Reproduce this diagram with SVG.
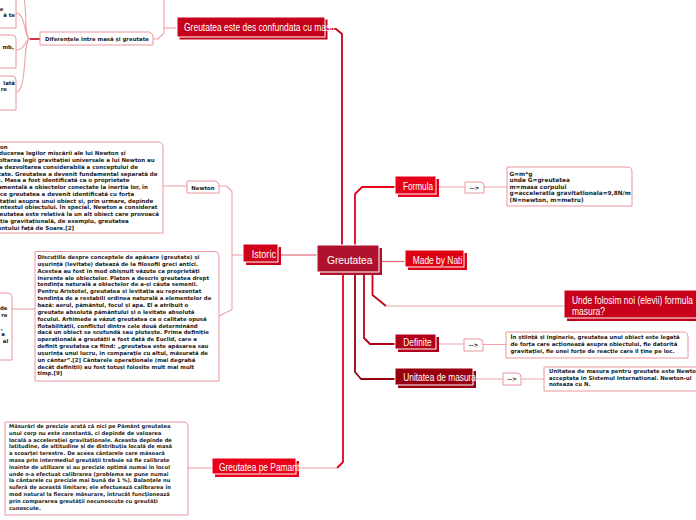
<svg xmlns="http://www.w3.org/2000/svg" width="696" height="520" viewBox="0 0 696 520">
<style>
.n{font-family:"Liberation Sans",Arial,sans-serif;font-size:10px;fill:#fff}
.t{font-family:"DejaVu Sans",Verdana,sans-serif;font-weight:bold;font-size:5.4px;fill:#1c1c1c}
.note{fill:#fff;stroke:#e9969d;stroke-width:1}
.c{fill:none;stroke-linejoin:round}
.pk{stroke:#eda3a8;stroke-width:1.1}
.w{stroke:#fff;stroke-width:1}
</style>
<rect width="696" height="520" fill="#fff"/>
<g id="connectors" class="c">
<path d="M342,245 V34 L336,29 H325" stroke="#c4001a" stroke-width="1.8"/>
<path d="M355,245 V194 L362,187 H395" stroke="#e8001a" stroke-width="1.8"/>
<path d="M379,261.5 H405" stroke="#e06870" stroke-width="1.2"/>
<path d="M372.5,272 V295 L386,306" stroke="#c8001a" stroke-width="1.8"/>
<path d="M386,306 H564" class="pk"/>
<path d="M364,272 V338 L370,344 H395" stroke="#b20019" stroke-width="1.8"/>
<path d="M355,272 V372 L361,379 H395" stroke="#98000f" stroke-width="1.8"/>
<path d="M343,272 V462 L337,468" stroke="#ea0018" stroke-width="1.8"/>
<path d="M337,468 H299" class="pk"/>
<path d="M317,255 H280" stroke="#e05060" stroke-width="1.2"/>
<path d="M243,255 H232" class="pk"/>
<path d="M219,186 H226.5 L232,191.5 V309.5 L219,316" class="pk"/>
<path d="M163,186 H187" class="pk"/>
<path d="M35,309 H12" class="pk"/>
<path d="M177,28 H164" class="pk"/>
<path d="M164,0 V33 L158,39 H153" class="pk"/>
<path d="M40,39 H30" stroke="#c4001a" stroke-width="1.6"/>
<path d="M30,39 C24,39 26,13 16,13" class="pk"/>
<path d="M30,39 C24,39 26,50 16,50" class="pk"/>
<path d="M30,39 C22,39 28,92 16,92" class="pk"/>
<path d="M30,39 C24,39 27,10 24,-2" class="pk"/>
<path d="M188,468 H212" class="pk"/>
<path d="M439,187 H465 M484,187 H507" class="pk"/>
<path d="M439,344 H464 M483,344.5 H506" class="pk"/>
<path d="M476,379 H503 M521,379 H544" class="pk"/>
</g>

<g id="n-greutatea">
<rect x="320" y="248" width="62" height="27" fill="#b0122e"/>
<rect x="317" y="245" width="62" height="27" fill="#b0122e" class="w"/>
<text class="n" x="327" y="263.5" style="font-size:11.5px" textLength="45.5" lengthAdjust="spacingAndGlyphs">Greutatea</text>
</g>

<g id="n-confundata">
<rect x="179.5" y="19.5" width="148" height="20" fill="#c4001a"/>
<rect x="177" y="17" width="148" height="20" fill="#c4001a" class="w"/>
<text class="n" x="184" y="31" textLength="151" lengthAdjust="spacingAndGlyphs">Greutatea este des confundata cu masa</text>
</g>

<g id="n-diferente">
<path d="M40,32 H150 L153,35 V45 H40 Z" class="note"/>
<text class="t" x="45" y="41">Diferențele între masă și greutate</text>
</g>

<g id="n-left-a">
<path d="M-20,-10 H16 V28 H-20 Z" class="note"/>
<text class="t" x="3.5" y="10.5" text-anchor="end">e</text>
<text class="t" x="15" y="16.5" text-anchor="end">ă te</text>
</g>
<g id="n-left-b">
<path d="M-20,35 H12 Q16,35 16,39 V68 H-20 Z" class="note"/>
<text class="t" x="14" y="49" text-anchor="end">mb,</text>
</g>
<g id="n-left-c">
<path d="M-20,76 H12 Q16,76 16,80 V110 H-20 Z" class="note"/>
<text class="t" x="15" y="84.5" text-anchor="end">lată</text>
<text class="t" x="7" y="91" text-anchor="end">re</text>
</g>

<g id="n-istoric">
<rect x="246" y="247" width="35" height="18" fill="#d0001a"/>
<rect x="243" y="244" width="35" height="18" fill="#d0001a" class="w"/>
<text class="n" x="251.7" y="257.5" textLength="24.3" lengthAdjust="spacingAndGlyphs">Istoric</text>
</g>

<g id="n-newton">
<path d="M187,181 H216 L219,184 V193 H187 Z" class="note"/>
<text class="t" x="203" y="189.5" text-anchor="middle">Newton</text>
</g>

<g id="n-newton-note">
<path d="M-20,142 H158 Q163,142 163,147 V233 H-20 Z" class="note"/>
<g class="t" style="font-size:5.5px">
<text x="-16" y="148.5">Newton</text>
<text x="-16" y="155.25">Introducerea legilor mișcării ale lui Newton și</text>
<text x="-16" y="162">dezvoltarea legii gravitației universale a lui Newton au</text>
<text x="-16" y="168.75">dus la dezvoltarea considerabilă a conceptului de</text>
<text x="-16" y="175.5">greutate. Greutatea a devenit fundamental separată de</text>
<text x="-16" y="182.25">masă. Masa a fost identificată ca o proprietate</text>
<text x="-16" y="189">fundamentală a obiectelor conectate la inerția lor, în</text>
<text x="-16" y="195.75">timp ce greutatea a devenit identificată cu forța</text>
<text x="-16" y="202.5">gravitației asupra unui obiect și, prin urmare, depinde</text>
<text x="-16" y="209.25">de contextul obiectului. În special, Newton a considerat</text>
<text x="-16" y="216">că greutatea este relativă la un alt obiect care provoacă</text>
<text x="-16" y="222.75">atracția gravitațională, de exemplu, greutatea</text>
<text x="-16" y="229.5">Pământului față de Soare.[2]</text>
</g>
</g>

<g id="n-discutii">
<path d="M35,251.5 H214 Q219,251.5 219,256.5 V381 H35 Z" class="note"/>
<g class="t">
<text x="37.5" y="259">Discuțiile despre conceptele de apăsare (greutate) și</text>
<text x="37.5" y="265.85">ușurință (levitate) datează de la filosofii greci antici.</text>
<text x="37.5" y="272.7">Acestea au fost în mod obișnuit văzute ca proprietăți</text>
<text x="37.5" y="279.55">inerente ale obiectelor. Platon a descris greutatea drept</text>
<text x="37.5" y="286.4">tendința naturală a obiectelor de a-și căuta semenii.</text>
<text x="37.5" y="293.25">Pentru Aristotel, greutatea și levitația au reprezentat</text>
<text x="37.5" y="300.1">tendința de a restabili ordinea naturală a elementelor de</text>
<text x="37.5" y="306.95">bază: aerul, pământul, focul și apa. El a atribuit o</text>
<text x="37.5" y="313.8">greutate absolută pământului și o levitate absolută</text>
<text x="37.5" y="320.65">focului. Arhimede a văzut greutatea ca o calitate opusă</text>
<text x="37.5" y="327.5">flotabilității, conflictul dintre cele două determinând</text>
<text x="37.5" y="334.35">dacă un obiect se scufundă sau plutește. Prima definiție</text>
<text x="37.5" y="341.2">operațională a greutății a fost dată de Euclid, care a</text>
<text x="37.5" y="348.05">definit greutatea ca fiind: „greutatea este apăsarea sau</text>
<text x="37.5" y="354.9">ușurința unui lucru, în comparație cu altul, măsurată de</text>
<text x="37.5" y="361.75">un cântar”.[2] Cântarele operaționale (mai degrabă</text>
<text x="37.5" y="368.6">decât definiții) au fost totuși folosite mult mai mult</text>
<text x="37.5" y="375.45">timp.[9]</text>
</g>
</g>

<g id="n-left-d">
<path d="M-20,293 H8 Q12,293 12,297 V360 H-20 Z" class="note"/>
<text class="t" x="7.5" y="310" text-anchor="end">de</text>
<text class="t" x="7.5" y="316.5" text-anchor="end">re</text>
<text class="t" x="2.7" y="329.5" text-anchor="end">,</text>
<text class="t" x="5" y="336" text-anchor="end">a</text>
<text class="t" x="8.3" y="342.5" text-anchor="end">al</text>
</g>

<g id="n-pamant">
<rect x="215" y="461" width="84" height="16" fill="#ea0018"/>
<rect x="212" y="458" width="84" height="16" fill="#ea0018" class="w"/>
<text class="n" x="219" y="470.5" textLength="80.3" lengthAdjust="spacingAndGlyphs">Greutatea pe Pamant</text>
</g>

<g id="n-pamant-note">
<path d="M5,422 H183 Q188,422 188,427 V515 H5 Z" class="note"/>
<g class="t" style="font-size:5.2px">
<text x="9" y="428">Măsurări de precizie arată că nici pe Pământ greutatea</text>
<text x="9" y="434.8">unui corp nu este constantă, ci depinde de valoarea</text>
<text x="9" y="441.6">locală a accelerației gravitaționale. Aceasta depinde de</text>
<text x="9" y="448.4">latitudine, de altitudine și de distribuția locală de masă</text>
<text x="9" y="455.2">a scoarței terestre. De aceea cântarele care măsoară</text>
<text x="9" y="462">masa prin intermediul greutății trebuie să fie calibrate</text>
<text x="9" y="468.8">înainte de utilizare și au precizie optimă numai în locul</text>
<text x="9" y="475.6">unde s-a efectuat calibrarea (problema se pune numai</text>
<text x="9" y="482.4">la cântarele cu precizie mai bună de 1 %). Balanțele nu</text>
<text x="9" y="489.2">suferă de această limitare; ele efectuează calibrarea în</text>
<text x="9" y="496">mod natural la fiecare măsurare, întrucât funcționează</text>
<text x="9" y="502.8">prin compararea greutății necunoscute cu greutăți</text>
<text x="9" y="509.6">cunoscute.</text>
</g>
</g>

<g id="n-formula">
<rect x="398" y="179" width="41" height="18" fill="#e8001a"/>
<rect x="395" y="176" width="41" height="18" fill="#e8001a" class="w"/>
<text class="n" x="403" y="190" textLength="30" lengthAdjust="spacingAndGlyphs">Formula</text>
</g>
<g id="n-formula-arrow">
<path d="M465,182 H480 Q484,182 484,186 V193 H465 Z" class="note"/>
<text class="t" x="474.5" y="190" text-anchor="middle" style="font-size:5.8px">--&gt;</text>
</g>
<g id="n-formula-note">
<path d="M507,167 H627 Q632,167 632,172 V206 H507 Z" class="note"/>
<g class="t" style="font-size:5.8px">
<text x="509.5" y="176">G=m*g</text>
<text x="509.5" y="182.4">unde G=greutatea</text>
<text x="509.5" y="188.8">m=masa corpului</text>
<text x="509.5" y="195.2">g=acceleratia gravitationala=9,8N/m</text>
<text x="509.5" y="201.6">(N=newton, m=metru)</text>
</g>
</g>

<g id="n-made">
<rect x="408" y="253" width="59" height="17" fill="#dd0015"/>
<rect x="405" y="250" width="59" height="17" fill="#dd0015" class="w"/>
<text class="n" x="412.7" y="263.5" textLength="49.6" lengthAdjust="spacingAndGlyphs">Made by Nati</text>
</g>

<g id="n-unde">
<rect x="567" y="293" width="140" height="28" fill="#c8001a"/>
<rect x="564" y="290" width="140" height="28" fill="#c8001a" class="w"/>
<text class="n" x="572" y="303.5" textLength="121" lengthAdjust="spacingAndGlyphs">Unde folosim noi (elevii) formula</text>
<text class="n" x="572" y="314.5" textLength="33" lengthAdjust="spacingAndGlyphs">masura?</text>
</g>

<g id="n-definite">
<rect x="398" y="337" width="41" height="15" fill="#b20019"/>
<rect x="395" y="334" width="41" height="15" fill="#b20019" class="w"/>
<text class="n" x="403.3" y="346" textLength="28.3" lengthAdjust="spacingAndGlyphs">Definite</text>
</g>
<g id="n-definite-arrow">
<path d="M464,339 H479 Q483,339 483,343 V351 H464 Z" class="note"/>
<text class="t" x="473.5" y="347.3" text-anchor="middle" style="font-size:5.8px">--&gt;</text>
</g>
<g id="n-definite-note">
<path d="M506,332 H683 Q688,332 688,337 V358 H506 Z" class="note"/>
<g class="t">
<text x="510.5" y="338.5">În știință și inginerie, greutatea unui obiect este legată</text>
<text x="510.5" y="345.5">de forța care acționează asupra obiectului, fie datorită</text>
<text x="510.5" y="352.5">gravitației, fie unei forțe de reacție care îl ține pe loc.</text>
</g>
</g>

<g id="n-unitatea">
<rect x="398" y="371" width="78" height="17" fill="#98000f"/>
<rect x="395" y="368" width="78" height="17" fill="#98000f" class="w"/>
<text class="n" x="403.3" y="380.5" textLength="72.7" lengthAdjust="spacingAndGlyphs">Unitatea de masura</text>
</g>
<g id="n-unitatea-arrow">
<path d="M503,373 H517 Q521,373 521,377 V385 H503 Z" class="note"/>
<text class="t" x="512" y="381.3" text-anchor="middle" style="font-size:5.8px">--&gt;</text>
</g>
<g id="n-unitatea-note">
<path d="M544,367 H700 V391 H544 Z" class="note"/>
<g class="t">
<text x="549" y="373">Unitatea de masura pentru greutate este Newton</text>
<text x="549" y="379.7">acceptata in Sistemul International. Newton-ul</text>
<text x="549" y="386.4">noteaza cu N.</text>
</g>
</g>
</svg>
